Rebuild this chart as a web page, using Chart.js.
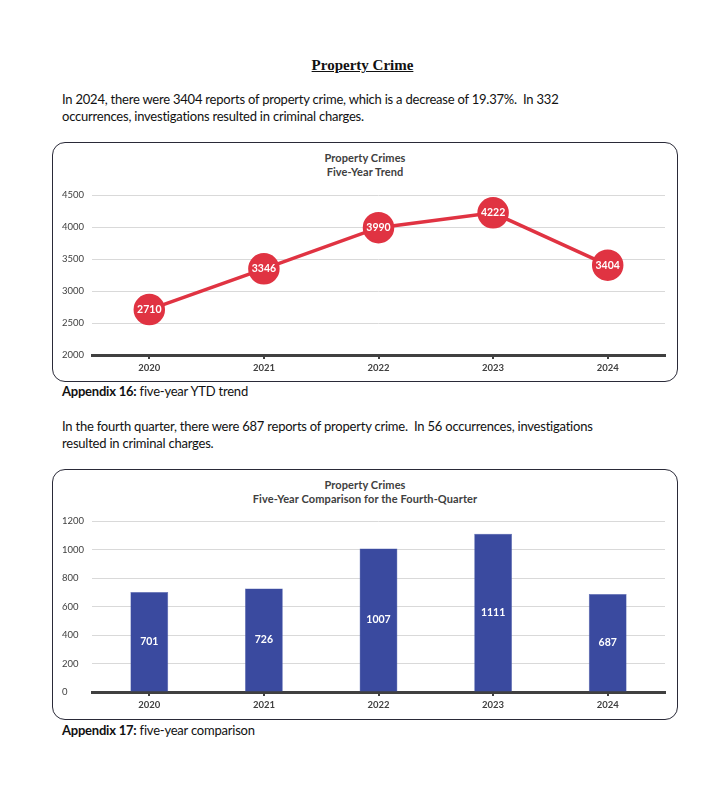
<!DOCTYPE html>
<html>
<head>
<meta charset="utf-8">
<script src="https://cdn.jsdelivr.net/npm/chart.js@4.4.1/dist/chart.umd.min.js"></script>
<style>
  html,body{margin:0;padding:0;background:#fff;}
  body{width:725px;height:803px;position:relative;font-family:Lato,"Open Sans",sans-serif;color:#111;}
  .abs{position:absolute;}
  .title{left:0;width:725px;top:56px;text-align:center;font-family:"Liberation Serif",serif;font-weight:bold;font-size:15px;text-decoration:underline;line-height:18px;}
  .para{left:62px;font-size:13px;line-height:17px;white-space:nowrap;letter-spacing:-0.22px;}
  .box{left:52px;width:624px;border:1.5px solid #2a2a38;border-radius:13px;}
  .ctitle{left:52px;width:626px;text-align:center;font-size:11px;font-weight:bold;color:#404040;line-height:14px;letter-spacing:0.1px;}
  canvas{position:absolute;}
</style>
</head>
<body>
<div class="abs title">Property Crime</div>
<div class="abs para" style="top:91px;">In 2024, there were 3404 reports of property crime, which is a decrease of 19.37%.&nbsp; In 332<br>occurrences, investigations resulted in criminal charges.</div>

<div class="abs box" style="top:142px;height:238px;"></div>
<div class="abs ctitle" style="top:151px;">Property Crimes<br>Five-Year Trend</div>
<div class="abs" style="left:52px;top:142px;width:626px;height:240px;"><canvas id="c1"></canvas></div>
<div class="abs para" style="top:383px;"><b>Appendix 16:</b> five-year YTD trend</div>

<div class="abs para" style="top:418px;">In the fourth quarter, there were 687 reports of property crime.&nbsp; In 56 occurrences, investigations<br>resulted in criminal charges.</div>

<div class="abs box" style="top:469px;height:249px;"></div>
<div class="abs ctitle" style="top:478px;">Property Crimes<br>Five-Year Comparison for the Fourth-Quarter</div>
<div class="abs" style="left:52px;top:469px;width:626px;height:251px;"><canvas id="c2"></canvas></div>
<div class="abs para" style="top:722px;"><b>Appendix 17:</b> five-year comparison</div>

<script>
const years = ['2020','2021','2022','2023','2024'];
const ytdTotals = [2710, 3346, 3990, 4222, 3404];
const q4Totals = [701, 726, 1007, 1111, 687];
const ytdTicks = {min: 2000, max: 4500, step: 500};
const q4Ticks = {min: 0, max: 1200, step: 200};

Chart.defaults.font.family = 'Lato, "Open Sans", sans-serif';
Chart.defaults.color = '#404040';

const valueLabels = {
  id: 'valueLabels',
  afterDatasetsDraw(chart) {
    const ctx = chart.ctx;
    const ds = chart.data.datasets[0];
    const meta = chart.getDatasetMeta(0);
    ctx.save();
    ctx.fillStyle = '#ffffff';
    ctx.font = 'bold 10.5px Lato, sans-serif';
    ctx.textAlign = 'center';
    ctx.textBaseline = 'middle';
    meta.data.forEach((el, i) => {
      let x = el.x, y = el.y;
      if (meta.type === 'bar') { y = (el.y + el.base) / 2; }
      ctx.fillText(String(ds.data[i]), x, y);
    });
    ctx.restore();
  }
};

function commonScales(t) {
  return {
    x: {
      offset: true,
      grid: { display: true, drawOnChartArea: false, drawTicks: true, tickLength: 4, color: '#404040', lineWidth: 2, offset: false },
      border: { display: true, color: '#404040', width: 3 },
      ticks: { font: { size: 9.5, weight: 'bold' }, color: '#404040', padding: 3 },
      afterFit(s) { s.height = 27; }
    },
    y: {
      min: t.min, max: t.max,
      ticks: { stepSize: t.step, font: { size: 9.5 }, color: '#404040', crossAlign: 'far', padding: 4,
               callback: (v) => String(v) },
      grid: { color: '#d9d9d9', lineWidth: 1, drawTicks: false },
      border: { display: false },
      afterFit(s) { s.width = 30; }
    }
  };
}

new Chart(document.getElementById('c1'), {
  type: 'line',
  data: {
    labels: years,
    datasets: [{
      data: ytdTotals,
      borderColor: '#e03342',
      backgroundColor: '#e03342',
      borderWidth: 3.5,
      pointRadius: 14,
      pointHoverRadius: 14,
      pointBackgroundColor: '#e03342',
      pointBorderColor: '#e03342',
      tension: 0,
      clip: false
    }]
  },
  options: {
    responsive: true, maintainAspectRatio: false, animation: false,
    layout: { autoPadding: false, padding: { left: 10, right: 13, top: 53, bottom: 0 } },
    plugins: { legend: { display: false }, title: { display: false }, tooltip: { enabled: false } },
    scales: commonScales(ytdTicks)
  },
  plugins: [valueLabels]
});

new Chart(document.getElementById('c2'), {
  type: 'bar',
  data: {
    labels: years,
    datasets: [{
      data: q4Totals,
      backgroundColor: '#3a4a9f',
      borderColor: '#5566b0',
      borderWidth: 0.5,
      categoryPercentage: 1,
      barPercentage: 0.33
    }]
  },
  options: {
    responsive: true, maintainAspectRatio: false, animation: false,
    layout: { autoPadding: false, padding: { left: 10, right: 13, top: 52, bottom: 1 } },
    plugins: { legend: { display: false }, title: { display: false }, tooltip: { enabled: false } },
    scales: commonScales(q4Ticks)
  },
  plugins: [valueLabels]
});
</script>
</body>
</html>
